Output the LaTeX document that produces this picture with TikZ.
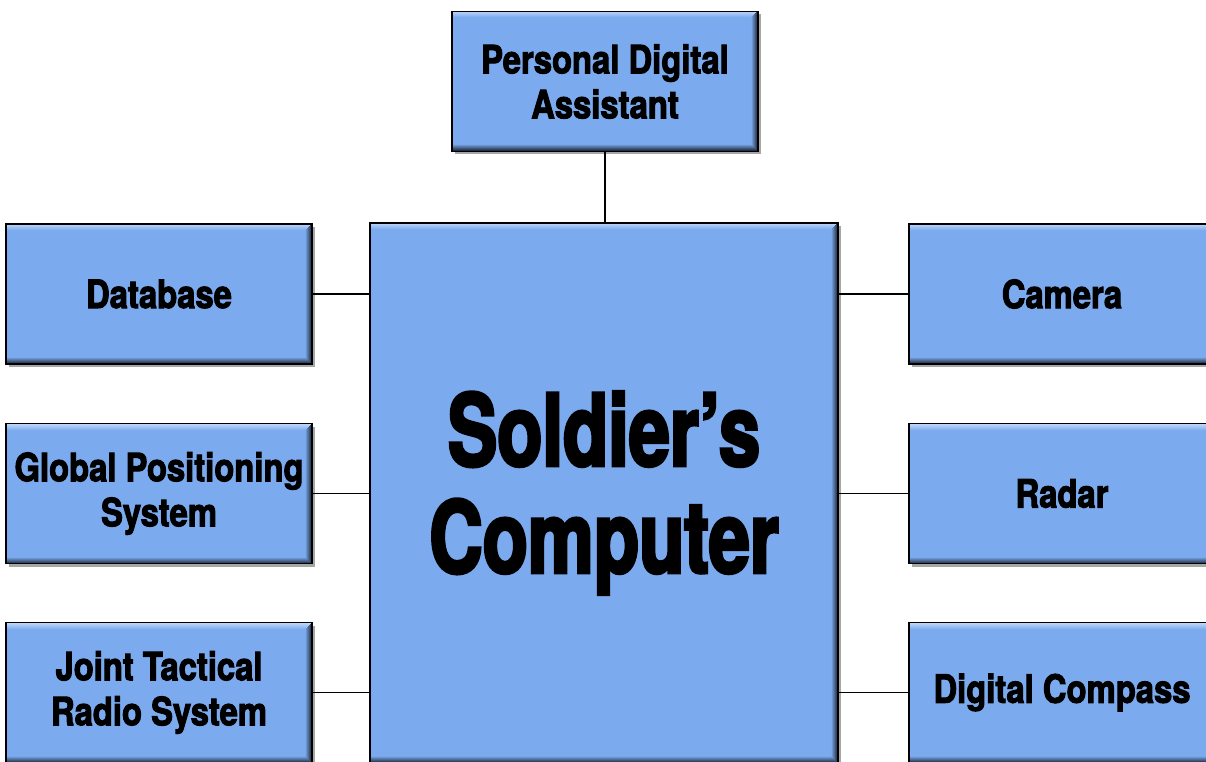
\documentclass[tikz,border=0pt]{standalone}
\usepackage{fontspec}
\usetikzlibrary{shadows}
\newfontfamily\boxfont{TeX Gyre Heros}[FakeStretch=0.84, FakeBold=2.5]
\newfontfamily\hubfont{TeX Gyre Heros}[FakeStretch=0.74, FakeBold=3]
\definecolor{boxblue}{HTML}{7BABEE}
\definecolor{bevellight}{HTML}{C8DDFA}
\definecolor{beveldark}{HTML}{141C28}
\tikzset{
  unitbox/.style={
    draw=black, line width=1.3pt, fill=boxblue,
    inner sep=0pt, outer sep=0pt, align=center, text=black,
    drop shadow={shadow xshift=3pt, shadow yshift=-3pt, opacity=0.7},
    path picture={
      % bevel: light top edge, dark right and bottom edges
      \foreach \k in {7,...,1}{
        \pgfmathtruncatemacro{\pct}{\k*14}
        \fill[boxblue!\pct!bevellight]
          (path picture bounding box.north west) rectangle
          ([yshift=-\k pt]path picture bounding box.north east);
        \fill[boxblue!\pct!beveldark]
          ([xshift=-\k pt]path picture bounding box.north east) rectangle
          (path picture bounding box.south east);
        \fill[boxblue!\pct!beveldark]
          ([yshift=\k pt]path picture bounding box.south west) rectangle
          (path picture bounding box.south east);
      }
    }},
  sidebox/.style={unitbox, minimum width=306pt, minimum height=140pt,
    font=\boxfont\bfseries\fontsize{39}{45}\selectfont},
  hubbox/.style={unitbox, minimum width=468pt, minimum height=540pt,
    font=\hubfont\bfseries\fontsize{100}{107}\selectfont},
  link/.style={draw=black, line width=1.8pt}
}
\begin{document}
\begin{tikzpicture}[x=1pt, y=-1pt]
  \useasboundingbox (0,0) rectangle (1206,762);
  \clip (0,0) rectangle (1206,762);

  % central computer and attached devices
  \node[hubbox] (cc) at (604,493) {Soldier’s\\Computer};
  \node[sidebox] (pda) at (605,81.5) {Personal Digital\\Assistant};
  \node[sidebox] (db) at (159,294) {Database};
  \node[sidebox] (gps) at (159,493.5) {Global Positioning\\System};
  \node[sidebox] (jtrs) at (159,692.5) {Joint Tactical\\Radio System};
  \node[sidebox] (cam) at (1062,294) {Camera};
  \node[sidebox] (radar) at (1062,493.5) {Radar};
  \node[sidebox] (comp) at (1062,692.5) {Digital Compass};

  % connectors
  \draw[link] (pda.south) -- (pda.south |- cc.north);
  \draw[link] (db.east) -- (db.east -| cc.west);
  \draw[link] (gps.east) -- (gps.east -| cc.west);
  \draw[link] (jtrs.east) -- (jtrs.east -| cc.west);
  \draw[link] (cam.west) -- (cam.west -| cc.east);
  \draw[link] (radar.west) -- (radar.west -| cc.east);
  \draw[link] (comp.west) -- (comp.west -| cc.east);
\end{tikzpicture}
\end{document}
